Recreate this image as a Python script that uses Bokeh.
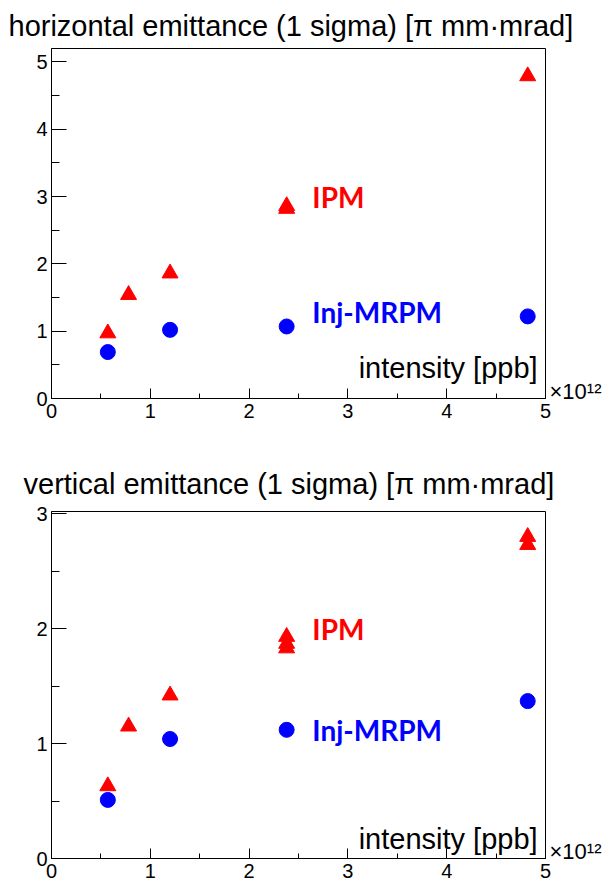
from bokeh.plotting import figure
from bokeh.layouts import column
from bokeh.models import Label, SingleIntervalTicker, FixedTicker, Range1d, LinearAxis
from bokeh.embed import file_html
from bokeh.resources import INLINE

# ---------------- data ----------------
h_x_ipm = [0.57, 0.78, 1.20, 2.38, 2.38, 4.82]
h_y_ipm = [0.97, 1.54, 1.86, 2.82, 2.86, 4.79]
h_x_inj = [0.57, 1.20, 2.38, 4.82]
h_y_inj = [0.69, 1.02, 1.07, 1.22]

v_x_ipm = [0.57, 0.78, 1.20, 2.38, 2.38, 2.38, 4.82, 4.82]
v_y_ipm = [0.63, 1.15, 1.42, 1.93, 1.87, 1.83, 2.80, 2.73]
v_x_inj = [0.57, 1.20, 2.38, 4.82]
v_y_inj = [0.51, 1.04, 1.12, 1.37]

titles = ["horizontal emittance (1 sigma) [π mm·mrad]",
          "vertical emittance (1 sigma) [π mm·mrad]"]
x_title = "intensity [ppb]"
x_exponent = "×10¹²"
series_names = ["IPM", "Inj-MRPM"]

FONT = "Liberation Sans"
RED = "#ff0000"
BLUE = "#0000ff"


def make_fig(h, btop, bbot, ymax, xi, yi, xc, yc, title, t_off, t_stand,
             ipm_y, inj_y, xt_y, exp_y):
    p = figure(width=604, height=h, output_backend="svg", toolbar_location=None,
               x_range=Range1d(0, 5), y_range=Range1d(0, ymax),
               min_border_left=51, min_border_right=59,
               min_border_top=btop, min_border_bottom=bbot)
    p.title.text = title
    p.title.align = "left"
    p.title.offset = t_off
    p.title.standoff = t_stand
    p.title.text_font = FONT
    p.title.text_font_size = "29px"
    p.title.text_font_style = "normal"
    p.title.text_color = "black"

    p.xgrid.visible = False
    p.ygrid.visible = False
    p.outline_line_color = "black"
    p.outline_line_alpha = 1.0
    p.outline_line_width = 1
    p.background_fill_color = "white"
    p.border_fill_color = "white"

    xa = p.xaxis[0]
    xa.ticker = SingleIntervalTicker(interval=1, num_minor_ticks=2)
    xa.major_tick_in = 10
    xa.major_tick_out = 0
    xa.minor_tick_in = 5
    xa.minor_tick_out = 0
    xa.major_label_standoff = 5
    ya = p.yaxis[0]
    ya.ticker = SingleIntervalTicker(interval=1, num_minor_ticks=2)
    ya.major_tick_in = 15
    ya.major_tick_out = 0
    ya.minor_tick_in = 8
    ya.minor_tick_out = 0
    ya.major_label_standoff = 4
    for a in (xa, ya):
        a.axis_line_color = "black"
        a.major_tick_line_color = "black"
        a.minor_tick_line_color = "black"
        a.major_label_text_font = FONT
        a.major_label_text_font_size = "20px"
        a.major_label_text_color = "black"

    # exponent of the x axis, written beside the lower right corner
    ex = LinearAxis(ticker=FixedTicker(ticks=[exp_y]),
                    major_label_overrides={exp_y: x_exponent},
                    axis_line_color=None, major_tick_line_color=None,
                    minor_tick_line_color=None, major_tick_in=0, major_tick_out=0,
                    minor_tick_in=0, minor_tick_out=0, major_label_standoff=4,
                    major_label_text_font=FONT, major_label_text_font_size="22px",
                    major_label_text_color="black")
    p.add_layout(ex, "right")

    p.scatter(xi, yi, marker="triangle", size=16, fill_color=RED, line_color=RED)
    p.scatter(xc, yc, marker="circle", size=15, fill_color=BLUE, line_color=BLUE)

    p.add_layout(Label(x=2.64, y=ipm_y, text=series_names[0], text_font="Lato",
                       text_font_size="28px", text_font_style="bold", text_color=RED,
                       text_baseline="middle", text_align="left"))
    p.add_layout(Label(x=2.64, y=inj_y, text=series_names[1], text_font="Lato",
                       text_font_size="28px", text_font_style="bold", text_color=BLUE,
                       text_baseline="middle", text_align="left"))
    p.add_layout(Label(x=4.92, y=xt_y, text=x_title, text_font=FONT,
                       text_font_size="29px", text_color="black",
                       text_baseline="alphabetic", text_align="right"))
    return p


p1 = make_fig(448, 47, 50, 5.2, h_x_ipm, h_y_ipm, h_x_inj, h_y_inj, titles[0],
              -43, 14, 2.99, 1.29, 0.45, 0.1)
p2 = make_fig(437, 63, 27, 3.02, v_x_ipm, v_y_ipm, v_x_inj, v_y_inj, titles[1],
              -28, 24, 2.0, 1.12, 0.17, 0.06)

layout = column(p1, p2, spacing=0)
open("out.html", "w").write(file_html(layout, INLINE))
